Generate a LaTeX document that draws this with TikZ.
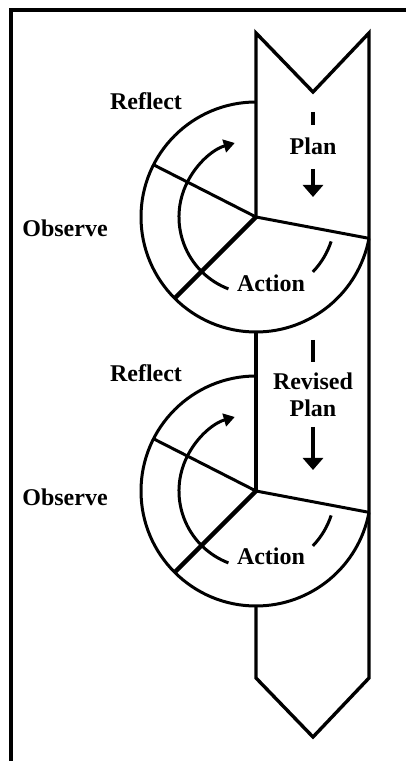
\documentclass[tikz,border=0pt]{standalone}
\usepackage{fontspec}
\setmainfont{Liberation Serif}
\usetikzlibrary{arrows.meta}
\tikzset{
  frameline/.style={line width=4pt},
  bandline/.style={line width=3.4pt, line join=miter},
  ringline/.style={line width=3pt},
  spokeline/.style={line width=3pt},
  thickspoke/.style={line width=4.4pt},
  cyclearrow/.style={line width=3pt, -{Triangle[width=13pt,length=11pt]}},
  planarrow/.style={line width=3.6pt, -{Triangle[width=20pt,length=12pt]}},
  dashline/.style={line width=3.6pt},
  lbl/.style={font=\fontsize{24}{27}\selectfont\bfseries, inner sep=0pt, align=center}
}
\begin{document}
\begin{tikzpicture}[x=1pt,y=1pt]
\useasboundingbox (0,0) rectangle (406,761);
% frame
\coordinate (fbl) at (10.5,0);
\coordinate (ftl) at (10.5,750.5);
\coordinate (ftr) at (406,750.5);
\draw[frameline] (fbl) -- (ftl) -- (ftr);
% centres
\coordinate (C1) at (256,544);
\coordinate (C2) at (256,270);
% band
\coordinate (tl) at (256,728);
\coordinate (tn) at (313,669);
\coordinate (tr) at (369,728);
\coordinate (br) at (369,83);
\coordinate (bt) at (313,24);
\coordinate (bl) at (256,83);
\draw[bandline] (C1) -- (tl) -- (tn) -- (tr) -- (br) -- (bt) -- (bl) -- (256,155);
\draw[bandline] (256,429) -- (C2);
% circles
\foreach \c in {C1,C2}{
  \draw[ringline] (\c) ++(90:115) arc[start angle=90,end angle=349.3,radius=115];
  \draw[spokeline] (\c) -- ++(-10.7:115);
  \draw[spokeline] (\c) -- ++(153:115);
  \draw[thickspoke] (\c) -- ++(225:115);
  \draw[cyclearrow] (\c) ++(249:77) arc[start angle=249,end angle=106,radius=77];
  \draw[ringline] (\c) ++(-18:79) arc[start angle=-18,end angle=-44,radius=79];
}
% labels
\node[lbl] (refl1) at (146,660) {Reflect};
\node[lbl] (obs1) at (65,533) {Observe};
\node[lbl] (act1) at (271,478) {Action};
\node[lbl] (plan1) at (313,615) {Plan};
\node[lbl] (refl2) at (146,388) {Reflect};
\node[lbl] (obs2) at (65,264) {Observe};
\node[lbl] (act2) at (271,205) {Action};
\node[lbl] (plan2) at (313,366) {Revised\\Plan};
% plan arrows
\coordinate (d1a) at (313,649);
\coordinate (d1b) at (313,636);
\coordinate (a1a) at (313,592);
\coordinate (a1b) at (313,564);
\draw[dashline] (d1a) -- (d1b);
\draw[planarrow] (a1a) -- (a1b);
\coordinate (d2a) at (313,421);
\coordinate (d2b) at (313,399);
\coordinate (a2a) at (313,334);
\coordinate (a2b) at (313,291);
\draw[dashline] (d2a) -- (d2b);
\draw[planarrow] (a2a) -- (a2b);
\end{tikzpicture}
\end{document}
